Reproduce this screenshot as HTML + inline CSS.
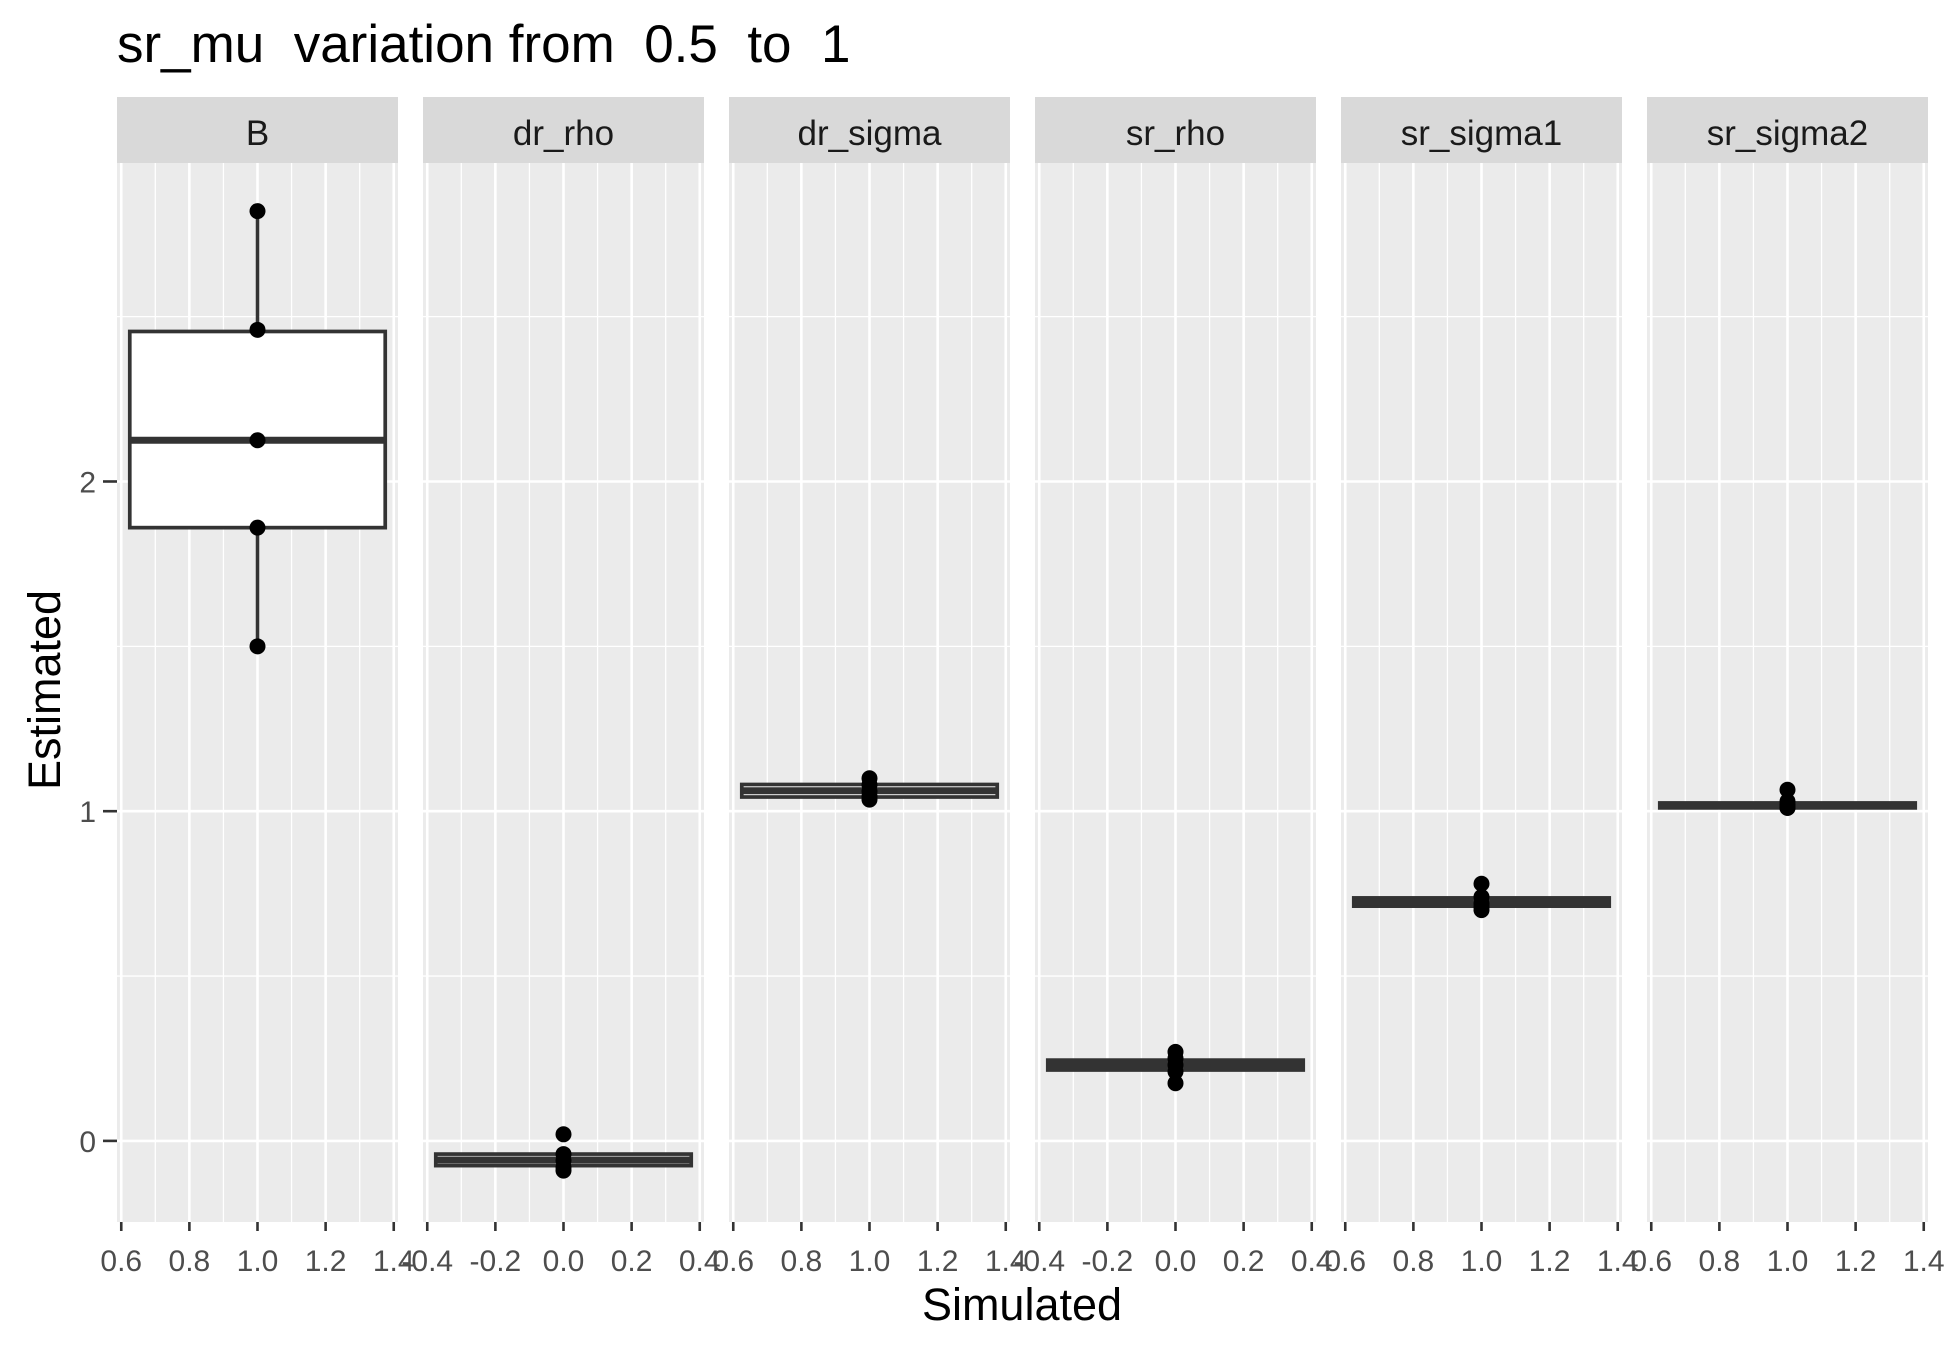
<!DOCTYPE html>
<html><head><meta charset="utf-8">
<style>
html,body{margin:0;padding:0;background:#fff;}
svg{display:block;font-family:"Liberation Sans",Arial,sans-serif;}
</style></head>
<body>
<svg id="chart" width="1950" height="1349" viewBox="0 0 1950 1349">
<text x="117" y="62" font-size="53" fill="#000" style="white-space:pre" xml:space="preserve">sr_mu  variation from  0.5  to  1</text>
<text x="1022" y="1320" font-size="45" fill="#000" text-anchor="middle">Simulated</text>
<text x="0" y="0" font-size="45" fill="#000" text-anchor="middle" transform="translate(60,690) rotate(-90)">Estimated</text>
<g id="panels"></g>
</svg>
<script>
const facets = ['B','dr_rho','dr_sigma','sr_rho','sr_sigma1','sr_sigma2'];
const centers = [1,0,1,0,1,1];
const pointValues = [
  [2.82,2.46,2.125,1.86,1.50],
  [0.02,-0.04,-0.06,-0.08,-0.09],
  [1.10,1.08,1.06,1.045,1.035],
  [0.27,0.25,0.23,0.21,0.175],
  [0.78,0.74,0.72,0.71,0.70],
  [1.065,1.03,1.02,1.01,1.01]
];
const boxQ1 = [1.86,-0.075,1.043,0.215,0.712,1.01];
const boxMed = [2.125,-0.058,1.062,0.23,0.724,1.018];
const boxQ3 = [2.455,-0.04,1.081,0.245,0.737,1.025];
const whiskLo = [1.50,-0.075,1.043,0.215,0.712,1.01];
const whiskHi = [2.82,-0.04,1.081,0.245,0.737,1.025];
const yTicks = [0,1,2];
const yMinor = [0.5,1.5,2.5];
const xTickOffsets = [-0.4,-0.2,0,0.2,0.4];

const NS='http://www.w3.org/2000/svg';
const g=document.getElementById('panels');
const panelLeft0=117, panelW=281, panelStep=306, panelTop=163, panelBottom=1222, stripTop=97;
const yMin=-0.246, yMax=2.966;
function yScale(v){return panelBottom-(v-yMin)/(yMax-yMin)*(panelBottom-panelTop);}
function mk(tag,attrs,parent){const e=document.createElementNS(NS,tag);for(const k in attrs)e.setAttribute(k,attrs[k]);(parent||g).appendChild(e);return e;}

yTicks.forEach((t)=>{
  const y=yScale(t);
  const lab=mk('text',{x:96,y:y+11,'font-size':30,fill:'#4d4d4d','text-anchor':'end'});
  lab.textContent=String(t);
  
  
  const tk=mk('line',{x1:103,x2:117,y1:y,y2:y,stroke:'#333','stroke-width':2.6});
  
  
});

facets.forEach((f,i)=>{
  const L=panelLeft0+i*panelStep, R=L+panelW;
  const c=centers[i];
  const xMin=c-0.4125, xMax=c+0.4125;
  const xs=v=>L+(v-xMin)/(xMax-xMin)*panelW;
  const pg=mk('g',{});
  
  
  mk('rect',{x:L,y:panelTop,width:panelW,height:panelBottom-panelTop,fill:'#ebebeb'},pg);
  const strip=mk('rect',{x:L,y:stripTop,width:panelW,height:panelTop-stripTop,fill:'#d9d9d9'},pg);
  
  
  const st=mk('text',{x:L+panelW/2,y:145,'font-size':35,fill:'#1a1a1a','text-anchor':'middle'},pg);
  st.textContent=f;
  
  
  yMinor.forEach(v=>mk('line',{x1:L,x2:R,y1:yScale(v),y2:yScale(v),stroke:'#fff','stroke-width':1.3},pg));
  xTickOffsets.slice(0,4).forEach(o=>{const x=xs(c+o+0.1);mk('line',{x1:x,x2:x,y1:panelTop,y2:panelBottom,stroke:'#fff','stroke-width':1.3},pg);});
  yTicks.forEach(v=>mk('line',{x1:L,x2:R,y1:yScale(v),y2:yScale(v),stroke:'#fff','stroke-width':2.6},pg));
  xTickOffsets.forEach(o=>{const x=xs(c+o);mk('line',{x1:x,x2:x,y1:panelTop,y2:panelBottom,stroke:'#fff','stroke-width':2.6},pg);
    const tk=mk('line',{x1:x,x2:x,y1:panelBottom,y2:panelBottom+9,stroke:'#333','stroke-width':2.6},pg);
    
    
    const tl=mk('text',{x:x,y:1271,'font-size':30,fill:'#4d4d4d','text-anchor':'middle'},pg);
    tl.textContent=(c+o).toFixed(1);
    
    
  });
  const bx0=xs(c-0.375), bx1=xs(c+0.375), cx=xs(c);
  const wl=mk('line',{x1:cx,x2:cx,y1:yScale(whiskHi[i]),y2:yScale(boxQ3[i]),stroke:'#333','stroke-width':3.5},pg);
  
  
  const wl2=mk('line',{x1:cx,x2:cx,y1:yScale(boxQ1[i]),y2:yScale(whiskLo[i]),stroke:'#333','stroke-width':3.5},pg);
  
  
  const bx=mk('rect',{x:bx0,y:yScale(boxQ3[i]),width:bx1-bx0,height:Math.max(0.5,yScale(boxQ1[i])-yScale(boxQ3[i])),fill:'#fff',stroke:'#333','stroke-width':3.7},pg);
  
  
  const md=mk('line',{x1:bx0,x2:bx1,y1:yScale(boxMed[i]),y2:yScale(boxMed[i]),stroke:'#333','stroke-width':7},pg);
  
  
  pointValues[i].forEach(v=>{
    const p=mk('circle',{cx:cx,cy:yScale(v),r:8,fill:'#000'},pg);
    
    
  });
});
</script>
</body></html>
